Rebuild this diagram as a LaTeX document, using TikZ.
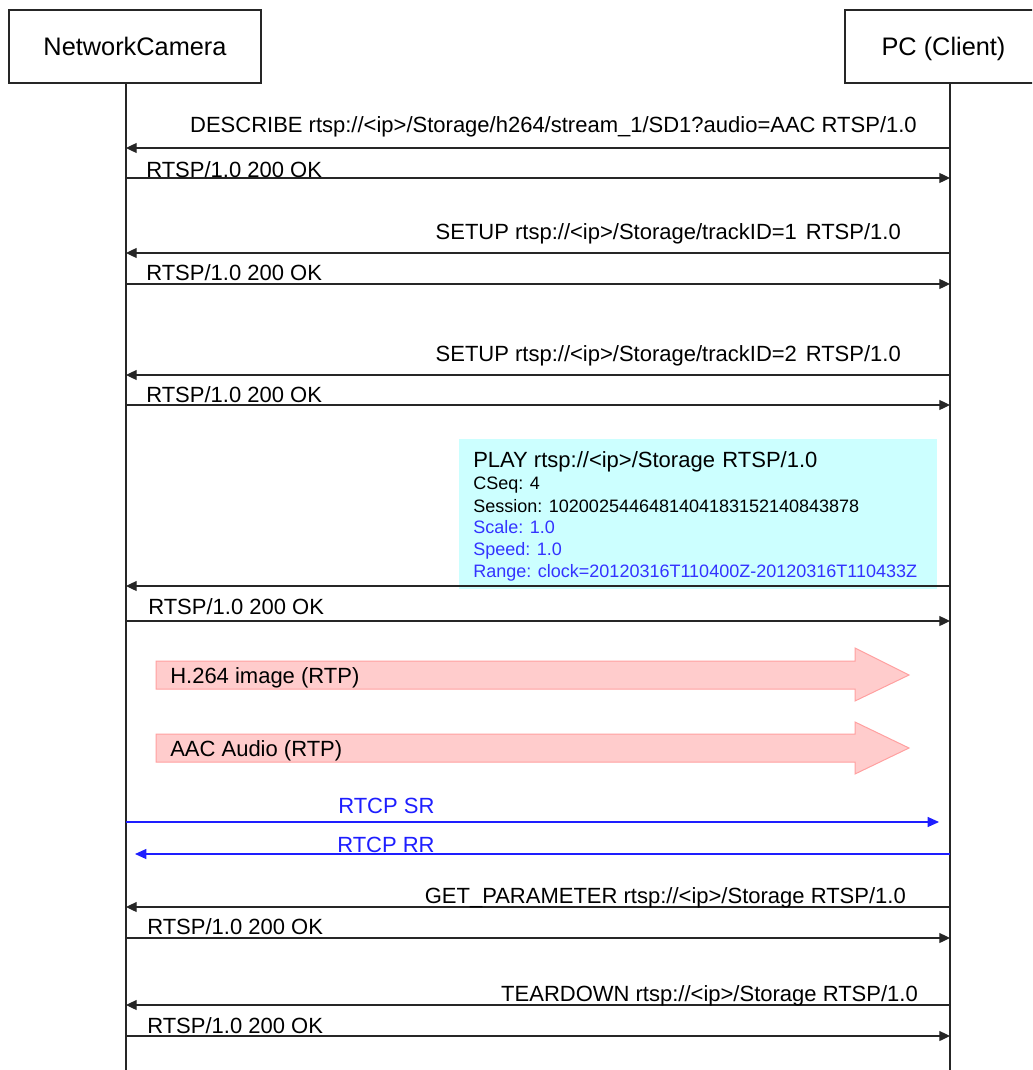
\documentclass[tikz,border=0pt]{standalone}
\usepackage{fontspec}
\setmainfont{Liberation Sans}
\usetikzlibrary{arrows.meta}

\definecolor{playcyan}{RGB}{204,255,255}
\definecolor{rtpfill}{RGB}{255,204,204}
\definecolor{rtpline}{RGB}{255,160,160}
\definecolor{rtcpblue}{RGB}{30,30,255}
\definecolor{fieldblue}{RGB}{51,51,255}

\begin{document}
\begin{tikzpicture}[
        x=0.75pt, y=-0.75pt,
        actor/.style={
            rectangle, draw=black!85, line width=0.9pt,
            minimum height=54.75pt, inner sep=0pt,
            font=\fontsize{19}{23}\selectfont
        },
        lifeline/.style={draw=black!85, line width=1pt},
        msg/.style={-{Triangle[length=8pt, width=7.5pt]}, draw=black!85, line width=0.9pt},
        rtcp/.style={-{Triangle[length=8.5pt, width=7.5pt]}, draw=rtcpblue, fill=rtcpblue, line width=0.9pt},
        lbl/.style={inner sep=0pt, font=\fontsize{16.5}{19}\selectfont},
        field/.style={inner sep=0pt, anchor=base west, font=\fontsize{13.5}{16}\selectfont},
        rtp/.style={fill=rtpfill, draw=rtpline, line width=0.75pt},
    ]
    \clip (0,0) rectangle (1032,1070);

    % participants
    \node (cam) [actor, minimum width=189pt]     at (135,46.5)   {NetworkCamera};
    \node (pc)  [actor, minimum width=147.75pt, text depth=0pt]  at (943.5,46.5) {PC (Client)};

    \coordinate (camtop) at (126,83);
    \coordinate (camend) at (126,1070);
    \coordinate (pctop)  at (950,83);
    \coordinate (pcend)  at (950,1070);
    \draw [lifeline] (camtop) -- (camend);
    \draw [lifeline] (pctop)  -- (pcend);

    % message rows
    \foreach \n/\y in {describe/148, ok1/178, setup1/253, ok2/284, setup2/375, ok3/405,
                       play/586, ok4/621, getparam/907, ok5/938, teardown/1005, ok6/1036} {
        \coordinate (cam-\n) at (126,\y);
        \coordinate (pc-\n)  at (950,\y);
    }
    \coordinate (cam-sr) at (126,822);
    \coordinate (pc-sr)  at (939,822);
    \coordinate (cam-rr) at (135,854);
    \coordinate (pc-rr)  at (950,854);

    % PLAY request box
    \node (playbox) [fill=playcyan, inner sep=0pt, minimum width=358.5pt, minimum height=112.5pt] at (698,514) {};

    \draw [msg] (pc-describe) -- (cam-describe);
    \draw [msg] (cam-ok1)     -- (pc-ok1);
    \draw [msg] (pc-setup1)   -- (cam-setup1);
    \draw [msg] (cam-ok2)     -- (pc-ok2);
    \draw [msg] (pc-setup2)   -- (cam-setup2);
    \draw [msg] (cam-ok3)     -- (pc-ok3);
    \draw [msg] (pc-play)     -- (cam-play);
    \draw [msg] (cam-ok4)     -- (pc-ok4);
    \draw [rtcp] (cam-sr)     -- (pc-sr);
    \draw [rtcp] (pc-rr)      -- (cam-rr);
    \draw [msg] (pc-getparam) -- (cam-getparam);
    \draw [msg] (cam-ok5)     -- (pc-ok5);
    \draw [msg] (pc-teardown) -- (cam-teardown);
    \draw [msg] (cam-ok6)     -- (pc-ok6);

    \node (describe) [lbl, anchor=base east] at (917,133)   {DESCRIBE rtsp://<ip>/Storage/h264/stream\_1/SD1?audio=AAC RTSP/1.0};
    \node (ok1)      [lbl, anchor=base west] at (146,177)   {RTSP/1.0 200 OK};
    \node (setup1)   [lbl, anchor=base east] at (901,239.5) {SETUP rtsp://<ip>/Storage/trackID=1\hspace{2pt} RTSP/1.0};
    \node (ok2)      [lbl, anchor=base west] at (146,280.5) {RTSP/1.0 200 OK};
    \node (setup2)   [lbl, anchor=base east] at (901,361)   {SETUP rtsp://<ip>/Storage/trackID=2\hspace{2pt} RTSP/1.0};
    \node (ok3)      [lbl, anchor=base west] at (146,402)   {RTSP/1.0 200 OK};

    \node (playreq) [lbl, anchor=base west] at (473,467) {PLAY rtsp://<ip>/Storage\hspace{1pt} RTSP/1.0};
    \node (cseq)    [field] at (473,489) {CSeq: 4};
    \node (session) [field] at (473,512) {Session: 1020025446481404183152140843878};
    \node (scale)   [field, text=fieldblue] at (473,533) {Scale: 1.0};
    \node (speed)   [field, text=fieldblue] at (473,555.5) {Speed: 1.0};
    \node (range)   [field, text=fieldblue] at (473,577) {Range: clock=20120316T110400Z-20120316T110433Z};

    \node (ok4)      [lbl, anchor=base west] at (148,614)   {RTSP/1.0 200 OK};

    % media streams
    \draw [rtp] (156,661) -- (855,661) -- (855,648) -- (909,675) -- (855,701) -- (855,689) -- (156,689) -- cycle;
    \draw [rtp] (156,734) -- (855,734) -- (855,722) -- (909,748) -- (855,774) -- (855,762) -- (156,762) -- cycle;
    \node (video) [lbl, anchor=base west] at (170,683) {H.264 image (RTP)};
    \node (audio) [lbl, anchor=base west] at (170,756) {AAC Audio (RTP)};

    \node (sr) [lbl, anchor=base west, text=rtcpblue] at (338,813) {RTCP SR};
    \node (rr) [lbl, anchor=base west, text=rtcpblue] at (337,852) {RTCP RR};

    \node (getparam) [lbl, anchor=base east] at (906,903)   {GET\_PARAMETER rtsp://<ip>/Storage RTSP/1.0};
    \node (ok5)      [lbl, anchor=base west] at (147,934)   {RTSP/1.0 200 OK};
    \node (teardown) [lbl, anchor=base east] at (918,1001.5) {TEARDOWN rtsp://<ip>/Storage RTSP/1.0};
    \node (ok6)      [lbl, anchor=base west] at (147,1033)  {RTSP/1.0 200 OK};

\end{tikzpicture}
\end{document}
